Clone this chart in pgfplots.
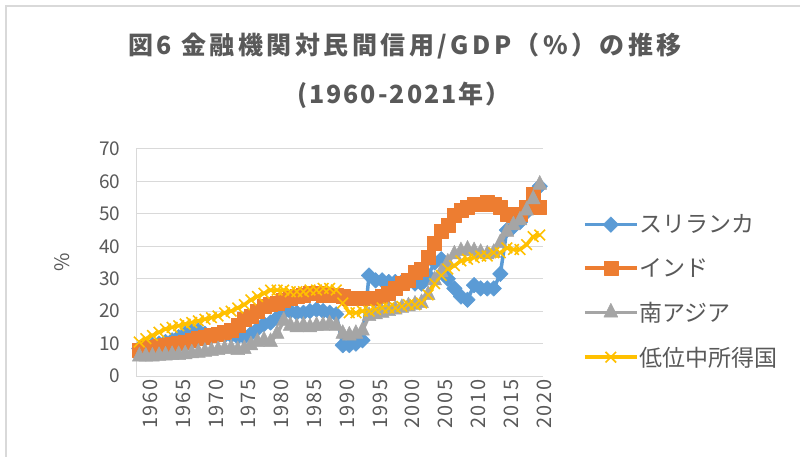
\documentclass[border=0pt]{standalone}
\usepackage{fontspec}
\setmainfont{Noto Sans CJK JP}
\newfontfamily\titlefont[LetterSpace=14]{Noto Sans CJK JP}
\newfontfamily\titlefontb[LetterSpace=8]{Noto Sans CJK JP}
\newfontfamily\xtickfont[LetterSpace=8]{Noto Sans CJK JP}
\usepackage{pgfplots}
\usepackage{pgfplotstable}
\pgfplotsset{compat=1.18}
\definecolor{slblue}{HTML}{5B9BD5}
\definecolor{inorange}{HTML}{ED7D31}
\definecolor{sagray}{HTML}{A5A5A5}
\definecolor{lmyellow}{HTML}{FFC000}
\definecolor{txt}{HTML}{595959}
\definecolor{gridc}{HTML}{D9D9D9}

\pgfplotstableread{
year sl in sa lm
1960 8.5 8.0 6 10.5
1961 9 8.5 6 11.5
1962 9.5 9.0 6 12.5
1963 10 9.3 6.2 13.5
1964 10.5 9.5 6.3 14.5
1965 11 9.8 6.5 15
1966 12 10.2 6.5 15.5
1967 13 10.5 6.7 16
1968 14 11.0 7 16.5
1969 14 11.5 7.2 17
1970 13 12.0 7.5 17.5
1971 12.5 12.5 7.7 18
1972 12.5 13.0 8 18.5
1973 12.5 13.5 8.3 19.5
1974 12.5 14.0 8.5 20
1975 12 15.5 8 21
1976 12 17.5 8.3 22
1977 13 18.5 9.5 23.5
1978 14.5 20.0 10.5 24.5
1979 16 21.5 11 25.5
1980 16.5 22.0 10.5 26.5
1981 18 22.5 13 26.5
1982 19.5 23.5 17 26.5
1983 20 24.0 15.5 26
1984 19.5 24.5 15 26
1985 19.5 25.0 15.5 26
1986 20 25.5 15 26.5
1987 20.5 25.5 15.5 26.5
1988 20 25.0 15.5 27
1989 19.5 25.0 16 27
1990 19 25.0 15.5 26.5
1991 9.5 24.5 13 22.5
1992 9.5 24.0 12.5 19.5
1993 10 24.0 13 19.5
1994 11 24.0 14 20
1995 31 24.0 18.5 20
1996 29.5 24.0 19 20.5
1997 29.5 24.5 19.5 21
1998 29 25.5 20 21
1999 29 27.0 20.5 21
2000 29 28.5 21 21.5
2001 29 29.5 21.5 22
2002 28.5 32.0 22 22
2003 28.5 33.0 22.5 22.5
2004 31 36.5 25 25
2005 35 41.0 29.5 28.5
2006 36 44.5 32 31
2007 30 46.5 35 33
2008 27 49.5 37.5 34
2009 24.5 51.0 38.5 35.5
2010 23.5 52.0 39 36
2011 28 53.0 38.5 36.5
2012 27 53.0 38 37
2013 27 53.5 37.5 37
2014 27 53.0 38 38
2015 31.5 52.0 41 38
2016 45 50.0 44.5 39.5
2017 46 49.5 46.5 39
2018 47.5 50.0 48 39
2019 50.5 52.0 51 40.5
2020 54 56.0 54.5 43
2021 58.5 52.0 59 43.5
}\datatable

\begin{document}
\begin{tikzpicture}
\useasboundingbox (0,0) rectangle (800bp,457bp);
\draw[gridc, line width=1.2bp] (6bp,0) -- (6bp,451bp) -- (800bp,451bp);
\begin{axis}[
  at={(136bp,81bp)}, anchor=south west,
  scale only axis, width=407bp, height=227bp,
  xmin=1959.5, xmax=2021.5, ymin=0, ymax=70,
  xtick={1960,1965,...,2020}, ytick={0,10,...,70},
  axis lines=left,
  axis line style={-, gridc, line width=1bp},
  ymajorgrids, major grid style={gridc, line width=1bp},
  major tick length=0pt,
  /pgf/number format/assume math mode=true,
  /pgf/number format/1000 sep={},
  xticklabel style={rotate=90, anchor=east, yshift=-11bp, font=\xtickfont\fontsize{20bp}{20bp}\selectfont, text=txt},
  yticklabel style={xshift=-12bp, font=\fontsize{19bp}{19bp}\selectfont, text=txt},
  ylabel={\%},
  ylabel style={at={(axis description cs:-0.182,0.5)}, anchor=center, font=\fontsize{20bp}{20bp}\selectfont, text=txt},
  legend style={at={(axis description cs:1.098,0.715)}, anchor=north west, draw=none, fill=none,
    font=\fontsize{23bp}{23bp}\selectfont, text=txt, row sep=22bp, inner sep=0pt,
    nodes={inner sep=1bp}},
  legend cell align=left,
  legend image code/.code={\draw[mark repeat=2,mark phase=2,#1] plot coordinates {(0bp,0bp) (26bp,0bp) (52bp,0bp)};},
  every axis plot/.append style={line width=3.5bp, line join=round},
  clip=false,
]
\addplot[slblue, mark=square*, mark size=5.5bp, mark options={rotate=45, solid, fill=slblue, draw=slblue, line width=0.5bp}] table[x=year,y=sl] {\datatable};
\addlegendentry{スリランカ}
\addplot[inorange, mark=square*, mark size=7bp, mark options={solid, fill=inorange, draw=inorange, line width=0.5bp}] table[x=year,y=in] {\datatable};
\addlegendentry{インド}
\addplot[sagray, mark=triangle*, mark size=8bp, mark options={yscale=1.15, solid, fill=sagray, draw=sagray, line width=0.5bp}] table[x=year,y=sa] {\datatable};
\addlegendentry{南アジア}
\addplot[lmyellow, mark=x, mark size=7.5bp, mark options={solid, draw=lmyellow, line width=1.6bp}] table[x=year,y=lm] {\datatable};
\addlegendentry{低位中所得国}
\end{axis}
\node[text=txt, font=\titlefont\bfseries\fontsize{25bp}{25bp}\selectfont] at (405bp,411bp) {図6 金融機関対民間信用/GDP（\%）の推移};
\node[text=txt, font=\titlefontb\bfseries\fontsize{25bp}{25bp}\selectfont] at (404bp,362bp) {(1960-2021年）};
\end{tikzpicture}
\end{document}
